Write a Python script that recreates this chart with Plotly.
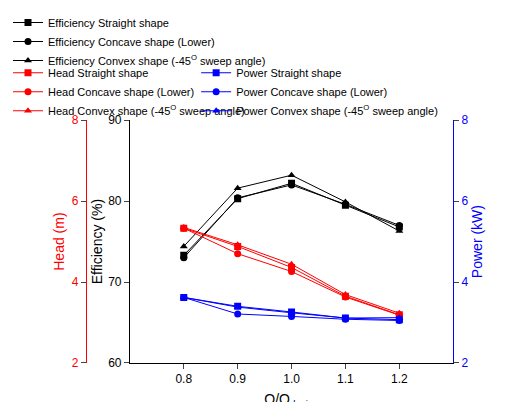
import plotly.graph_objects as go

q = [0.8, 0.9, 1.0, 1.1, 1.2]
eff_straight = [73.3, 80.3, 82.2, 79.5, 76.8]
eff_concave = [73.0, 80.4, 82.0, 79.6, 77.0]
eff_convex = [74.4, 81.6, 83.2, 79.9, 76.3]
head_straight = [5.33, 4.88, 4.36, 3.65, 3.19]
head_concave = [5.33, 4.70, 4.26, 3.63, 3.18]
head_convex = [5.35, 4.92, 4.44, 3.69, 3.23]
pow_straight = [3.62, 3.40, 3.26, 3.11, 3.07]
pow_concave = [3.62, 3.21, 3.15, 3.08, 3.05]
pow_convex = [3.62, 3.38, 3.24, 3.11, 3.12]

sweep = " (-45<sup>O</sup> sweep angle)"
fig = go.Figure()
def add(y, name, color, sym, axis, leg):
    fig.add_trace(go.Scatter(x=q, y=y, name=name, mode="lines+markers", yaxis=axis, legend=leg,
                             line=dict(color=color, width=1), marker=dict(color=color, symbol=sym, size=7)))

add(eff_straight, "Efficiency Straight shape", "black", "square", "y", "legend")
add(eff_concave, "Efficiency Concave shape (Lower)", "black", "circle", "y", "legend")
add(eff_convex, "Efficiency Convex shape" + sweep, "black", "triangle-up", "y", "legend")
add(head_straight, "Head Straight shape", "red", "square", "y2", "legend2")
add(head_concave, "Head Concave shape (Lower)", "red", "circle", "y2", "legend2")
add(head_convex, "Head Convex shape" + sweep, "red", "triangle-up", "y2", "legend2")
add(pow_straight, "Power Straight shape", "blue", "square", "y3", "legend3")
add(pow_concave, "Power Concave shape (Lower)", "blue", "circle", "y3", "legend3")
add(pow_convex, "Power Convex shape" + sweep, "blue", "triangle-up", "y3", "legend3")

dom = [0.117, 0.721]
legcommon = dict(bgcolor="rgba(0,0,0,0)", font=dict(size=11, color="black"), tracegroupgap=0,
                 itemwidth=30, xanchor="left", yanchor="top")
fig.update_layout(
    width=530, height=402, margin=dict(l=0, r=0, t=0, b=0),
    plot_bgcolor="white", paper_bgcolor="white",
    font=dict(family="Liberation Sans, Arial", size=12, color="black"),
    xaxis=dict(domain=[0.230, 0.840], range=[0.7, 1.3], tickvals=[0.8, 0.9, 1.0, 1.1, 1.2],
               ticktext=["0.8", "0.9", "1.0", "1.1", "1.2"], showgrid=False, showline=True,
               linecolor="black", ticks="outside", zeroline=False, automargin=False,
               title=dict(text="Q/Q<sub>design</sub>", standoff=8)),
    yaxis=dict(domain=dom, range=[60, 90], dtick=10, showgrid=False, showline=True, linecolor="black",
               ticks="outside", zeroline=False, automargin=False, title=dict(text="Efficiency (%)", standoff=2)),
    yaxis2=dict(overlaying="y", anchor="free", position=0.147, side="left", range=[2, 8], dtick=2,
                showgrid=False, showline=True, linecolor="red", ticks="outside", zeroline=False,
                automargin=False, tickfont=dict(color="red"),
                title=dict(text="Head (m)", font=dict(color="red"), standoff=2)),
    yaxis3=dict(overlaying="y", anchor="x", side="right", range=[2, 8], dtick=2, showgrid=False,
                showline=True, linecolor="blue", ticks="outside", zeroline=False, automargin=False,
                tickfont=dict(color="blue"), title=dict(text="Power (kW)", font=dict(color="blue"), standoff=2)),
    legend=dict(x=0.0, y=1.0, **legcommon),
    legend2=dict(x=0.0, y=0.875, **legcommon),
    legend3=dict(x=0.355, y=0.875, **legcommon),
)
fig.write_html("out.html")
